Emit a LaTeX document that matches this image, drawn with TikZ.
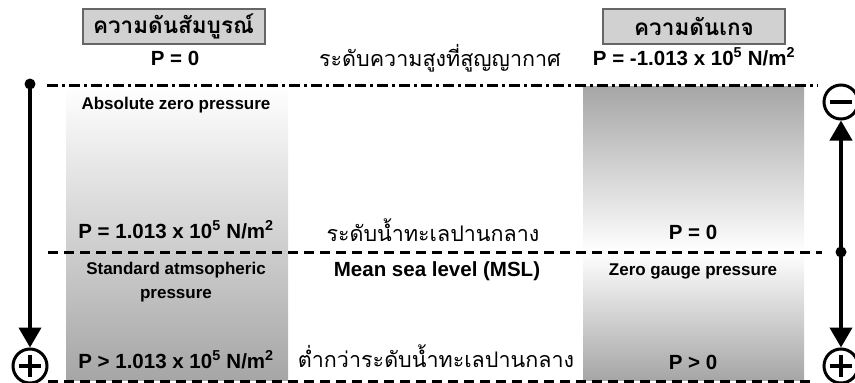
\documentclass[tikz,border=0pt]{standalone}
\usepackage{fontspec}
\setmainfont{Liberation Sans}
\newfontfamily\thai[Script=Thai]{Loma}
\usetikzlibrary{arrows.meta}
\begin{document}
\begin{tikzpicture}[x=1pt,y=-1pt,
  lab/.style={font=\bfseries\fontsize{20.5}{24}\selectfont,anchor=base,inner sep=0pt},
  small/.style={font=\bfseries\fontsize{17}{20}\selectfont,anchor=base,inner sep=0pt},
  thtext/.style={font=\thai\fontsize{21.5}{26}\selectfont,anchor=base,inner sep=0pt},
  titlebox/.style={draw=black!60,line width=2pt,fill=black!18,minimum width=182pt,minimum height=35pt,inner sep=0pt,font=\thai\bfseries\fontsize{22.5}{27}\selectfont},
  dashline/.style={line width=3pt,dash pattern=on 10pt off 6pt},
  dashdot/.style={line width=3pt,dash pattern=on 11pt off 4pt on 3pt off 4pt},
  dot/.style={circle,fill=black,minimum size=11pt,inner sep=0pt},
  sign/.style={circle,draw=black,line width=3pt,minimum size=34pt,inner sep=0pt},
  arr/.style={line width=4pt,-{Triangle[length=20pt,width=22pt]}},
  stroke/.style={line width=3.5pt}]
\useasboundingbox (0,0) rectangle (855,383);

% shaded columns
\shade[top color=white,bottom color=black!35] (66,86) rectangle (288,380);
\shade[top color=black!35,bottom color=white] (583,86) rectangle (804,252);
\shade[top color=white,bottom color=black!35] (583,252) rectangle (804,380);

% level lines
\coordinate (tl) at (47,85);  \coordinate (tr) at (818,85);
\coordinate (ml) at (48,252); \coordinate (mr) at (822,252);
\coordinate (bl) at (48,381); \coordinate (br) at (815,381);
\draw[dashdot] (tl) -- (tr);
\draw[dashline] (ml) -- (mr);
\draw[dashline] (bl) -- (br);

% title boxes
\node[titlebox] (abs) at (173.5,26.5) {ความดันสัมบูรณ์};
\node[titlebox] (gauge) at (694,26.5) {ความดันเกจ};

% labels
\node[lab] (p0) at (175,65) {P = 0};
\node[thtext] (vac) at (440,66) {ระดับความสูงที่สูญญากาศ};
\node[lab] (pneg) at (694,65) {P = -1.013 x 10\textsuperscript{5} N/m\textsuperscript{2}};
\node[small] (azp) at (176,109) {Absolute zero pressure};
\node[lab] (patm) at (176,238) {P = 1.013 x 10\textsuperscript{5} N/m\textsuperscript{2}};
\node[thtext] (msl) at (433,241) {ระดับน้ำทะเลปานกลาง};
\node[lab] (pg0) at (693,239) {P = 0};
\node[small] (sap1) at (176,274) {Standard atmsopheric};
\node[small] (sap2) at (176,298) {pressure};
\node[lab] (mslen) at (437,276) {Mean sea level (MSL)};
\node[small] (zgp) at (693,275) {Zero gauge pressure};
\node[lab] (pgt) at (176,368) {P > 1.013 x 10\textsuperscript{5} N/m\textsuperscript{2}};
\node[thtext] (below) at (436,367) {ต่ำกว่าระดับน้ำทะเลปานกลาง};
\node[lab] (pgt0) at (693,369) {P > 0};

% left axis
\node[dot] (ldot) at (30,84) {};
\node[sign] (lplus) at (30,366) {};
\draw[arr] (ldot.center) -- (lplus.north);
\draw[stroke] ([xshift=-11pt]lplus.center) -- ([xshift=11pt]lplus.center);
\draw[stroke] ([yshift=-11pt]lplus.center) -- ([yshift=11pt]lplus.center);

% right axis
\node[dot] (rdot) at (841,252) {};
\node[sign] (rminus) at (841,102) {};
\node[sign] (rplus) at (841,366) {};
\draw[arr] (rdot.center) -- (rminus.south);
\draw[arr] (rdot.center) -- (rplus.north);
\draw[stroke] ([xshift=-11pt]rminus.center) -- ([xshift=11pt]rminus.center);
\draw[stroke] ([xshift=-11pt]rplus.center) -- ([xshift=11pt]rplus.center);
\draw[stroke] ([yshift=-11pt]rplus.center) -- ([yshift=11pt]rplus.center);
\end{tikzpicture}
\end{document}
